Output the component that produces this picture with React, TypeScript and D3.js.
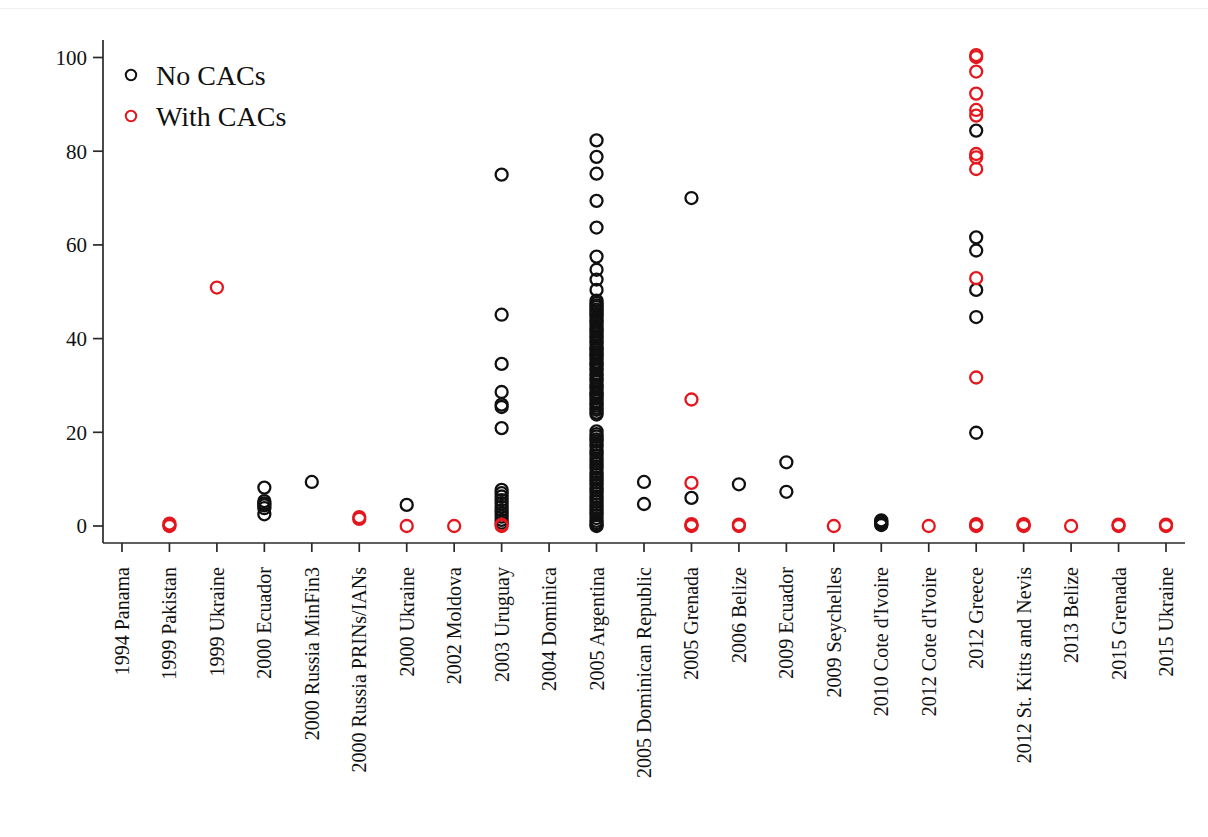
import React from "react";
import * as d3 from "d3";

const categories = [
  "1994 Panama",
  "1999 Pakistan",
  "1999 Ukraine",
  "2000 Ecuador",
  "2000 Russia MinFin3",
  "2000 Russia PRINs/IANs",
  "2000 Ukraine",
  "2002 Moldova",
  "2003 Uruguay",
  "2004 Dominica",
  "2005 Argentina",
  "2005 Dominican Republic",
  "2005 Grenada",
  "2006 Belize",
  "2009 Ecuador",
  "2009 Seychelles",
  "2010 Cote d'Ivoire",
  "2012 Cote d'Ivoire",
  "2012 Greece",
  "2012 St. Kitts and Nevis",
  "2013 Belize",
  "2015 Grenada",
  "2015 Ukraine",
];

const yTicks = [0, 20, 40, 60, 80, 100];

const argentinaNoCACs = [
  82.3, 78.8, 75.2, 69.4, 63.7, 57.5, 54.7, 52.6, 50.4,
  48.1, 47.6, 47.1, 46.7, 46.2, 45.8, 45.2, 44.9, 44.3, 43.8, 43.4, 42.9,
  42.3, 41.9, 41.5, 40.9, 40.4, 40.1, 39.5, 39.1, 38.6, 38.0, 37.7, 37.1,
  36.6, 36.2, 35.7, 35.1, 34.6, 34.3, 33.6, 33.2, 32.5, 32.1, 31.6, 31.2,
  30.7, 30.1, 29.7, 29.2, 28.5, 28.1, 27.7, 27.2, 26.6, 26.1, 25.7, 25.2,
  24.8, 24.2, 23.8,
  20.2, 19.6, 19.1, 18.5, 18.1, 17.4, 16.9, 16.2, 15.7, 15.1, 14.4, 13.9,
  13.3, 12.7, 12.2, 11.5, 11.0, 10.4, 9.9, 9.3, 8.7, 8.1, 7.6, 7.0, 6.3,
  5.8, 5.2, 4.6, 4.0, 3.4, 2.9, 2.3, 1.7, 1.1, 0.6, 0.2, 0,
];

const uruguayNoCACs = [
  75, 45.1, 34.6, 28.6, 25.9, 25.4, 20.9,
  7.7, 7.0, 6.3, 5.5, 4.8, 4.1, 3.4, 2.7, 2.0, 1.3, 0.7,
];

const greeceNoCACs = [84.4, 61.6, 58.8, 50.4, 44.6, 19.9];
const greeceWithCACs = [
  100.5, 100.1, 97.0, 92.3, 88.8, 87.6, 79.4, 78.7, 76.2, 52.9, 31.7,
  0.4, 0.2, 0,
];

// values per category (aligned with `categories`), series without CACs
const noCACs: number[][] = [
  [],
  [],
  [],
  [8.2, 5.3, 4.8, 4.4, 3.8, 2.5],
  [9.4],
  [],
  [4.5],
  [],
  uruguayNoCACs,
  [],
  argentinaNoCACs,
  [9.4, 4.7],
  [70.0, 6.0],
  [8.9],
  [13.6, 7.3],
  [],
  [1.2, 0.9, 0.6, 0.4, 0.2],
  [],
  greeceNoCACs,
  [],
  [],
  [],
  [],
];

// values per category, series with CACs
const withCACs: number[][] = [
  [],
  [0.5, 0.2, 0],
  [50.9],
  [],
  [],
  [1.9, 1.5],
  [0],
  [0],
  [0.3, 0],
  [],
  [],
  [],
  [27.0, 9.2, 0.4, 0.2, 0],
  [0.3, 0],
  [],
  [0],
  [],
  [0],
  greeceWithCACs,
  [0.4, 0.2, 0],
  [0],
  [0.3, 0],
  [0.3, 0],
];

const BLACK = "#101010";
const RED = "#e3171d";
const FONT = "'Liberation Serif', 'Times New Roman', serif";

export default function App() {
  const left = 103;
  const right = 1185;
  const axisY = 543;
  const x = d3.scalePoint<string>().domain(categories).range([left, right]).padding(0.4);
  const y = d3.scaleLinear().domain([0, 100]).range([526, 57.5]);

  const pts = (series: number[][], color: string) =>
    series.flatMap((vals, i) =>
      vals.map((v, j) => (
        <circle
          key={`${color}-${i}-${j}`}
          cx={x(categories[i])}
          cy={y(v)}
          r={6}
          fill="none"
          stroke={color}
          strokeWidth={2.3}
        />
      ))
    );

  return (
    <svg
      width={1208}
      height={837}
      style={{ position: "absolute", left: 0, top: 0, display: "block", background: "#fff" }}
    >
      <line x1={0} x2={1208} y1={8.5} y2={8.5} stroke="#f0f0f0" strokeWidth={1} />
      {/* y axis */}
      <line x1={left} x2={left} y1={40} y2={axisY} stroke="#2a2a2a" strokeWidth={1.7} />
      {yTicks.map((t) => (
        <g key={t}>
          <line x1={left - 10} x2={left} y1={y(t)} y2={y(t)} stroke="#2a2a2a" strokeWidth={1.7} />
          <text
            x={87}
            y={y(t)}
            dy="0.35em"
            textAnchor="end"
            fontFamily={FONT}
            fontSize={21}
            fill="#111"
          >
            {t}
          </text>
        </g>
      ))}
      {/* x axis */}
      <line x1={left} x2={right} y1={axisY} y2={axisY} stroke="#2a2a2a" strokeWidth={1.7} />
      {categories.map((c) => (
        <g key={c} transform={`translate(${x(c)},0)`}>
          <line x1={0} x2={0} y1={axisY} y2={axisY + 9} stroke="#2a2a2a" strokeWidth={1.7} />
          <text
            transform={`translate(0,${axisY + 24}) rotate(-90)`}
            dy="0.35em"
            textAnchor="end"
            fontFamily={FONT}
            fontSize={20}
            fill="#111"
          >
            {c}
          </text>
        </g>
      ))}
      {pts(noCACs, BLACK)}
      {pts(withCACs, RED)}
      {/* legend */}
      <circle cx={131} cy={75} r={5.2} fill="none" stroke={BLACK} strokeWidth={2} />
      <text x={156} y={85} fontFamily={FONT} fontSize={28} fill="#111">
        No CACs
      </text>
      <circle cx={131} cy={116} r={5.2} fill="none" stroke={RED} strokeWidth={2} />
      <text x={156} y={126} fontFamily={FONT} fontSize={28} fill="#111">
        With CACs
      </text>
    </svg>
  );
}
